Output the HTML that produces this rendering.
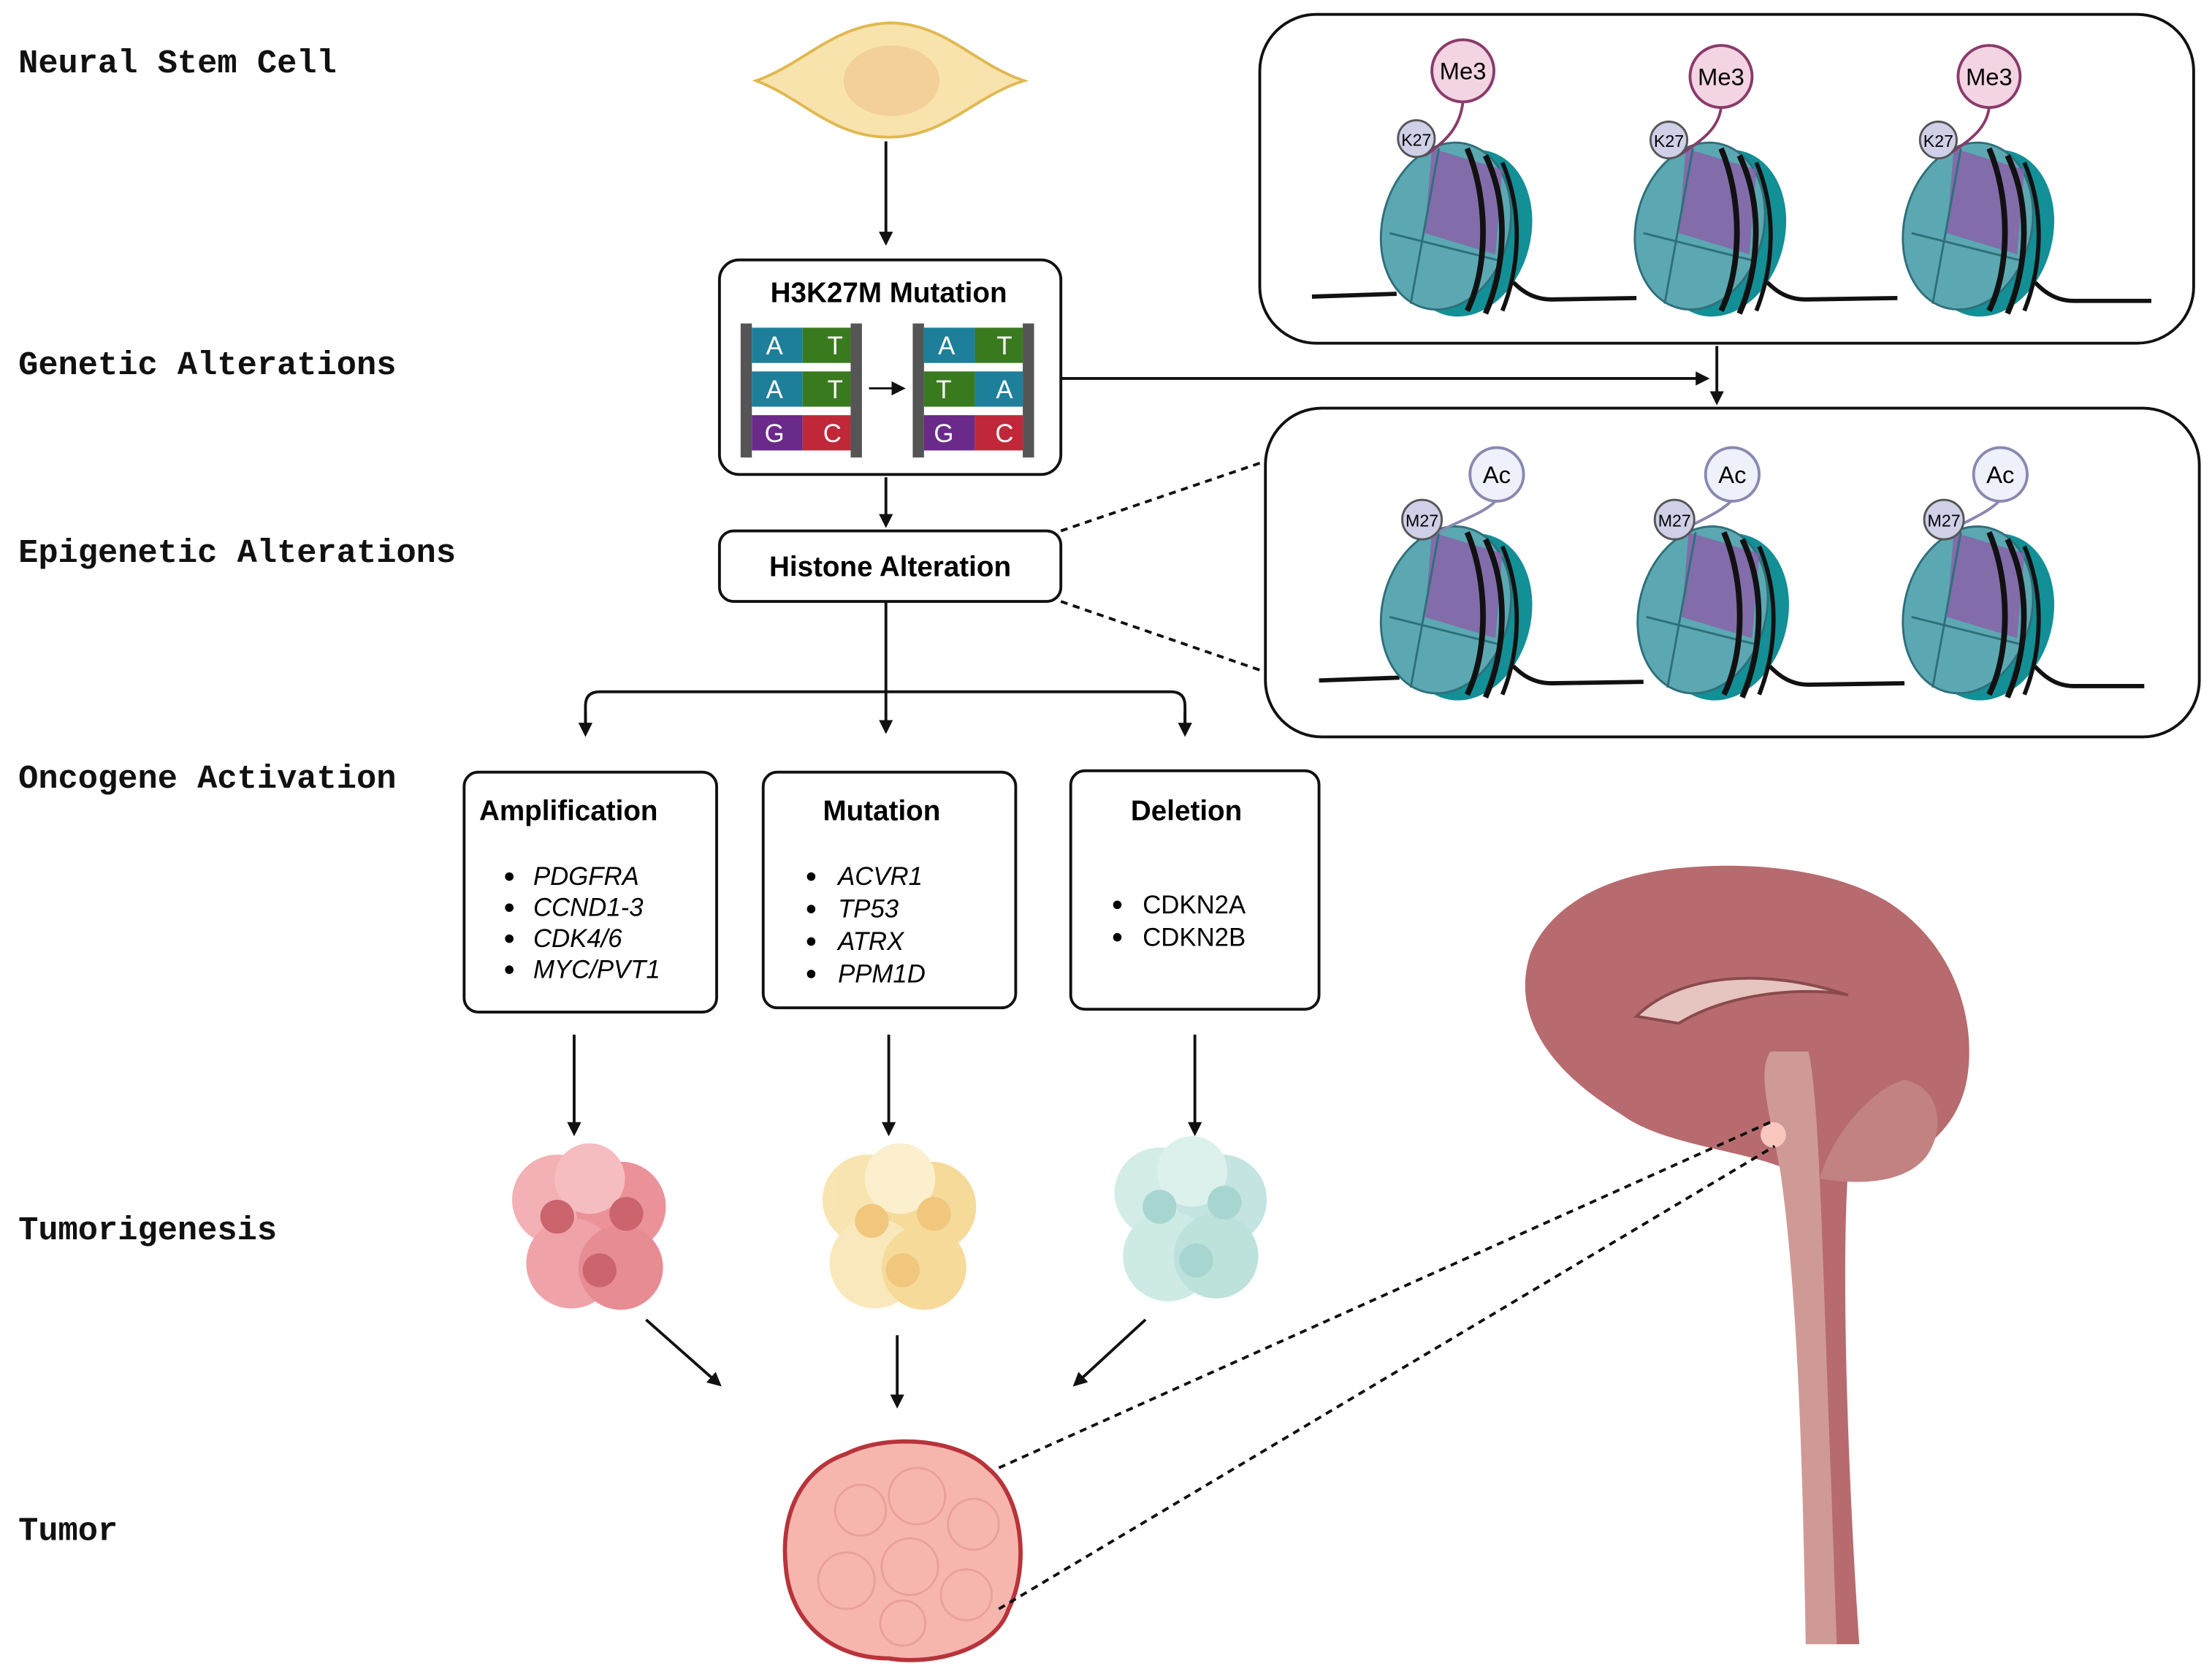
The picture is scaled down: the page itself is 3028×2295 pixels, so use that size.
<!DOCTYPE html>
<html><head><meta charset="utf-8"><style>
html,body{margin:0;padding:0;background:#fff}
svg{display:block}
.lab{font-family:"Liberation Mono",monospace;font-weight:bold;font-size:23.5px;fill:#111}
.sans{font-family:"Liberation Sans",sans-serif}
</style></head><body>
<svg width="3028" height="2295" viewBox="0 0 1568 1188" xmlns="http://www.w3.org/2000/svg">
<defs>
<marker id="ar" markerWidth="10" markerHeight="10" refX="8" refY="5" orient="auto" markerUnits="userSpaceOnUse"><path d="M0,0 L10,5 L0,10 z" fill="#111"/></marker>
<g id="nuc">
  <ellipse cx="15" cy="5" rx="45" ry="60" fill="#138f96" transform="rotate(15 15 5)"/>
  <ellipse cx="0" cy="0" rx="45" ry="60" fill="#5ba8b2" stroke="#2f6f7a" stroke-width="1.5" transform="rotate(15)"/>
  <path d="M-10,-55 L40,-40 L35,20 L-15,5 z" fill="#8a62a8" opacity="0.85"/>
  <path d="M-40,5 L40,25" stroke="#2f6f7a" stroke-width="1.5"/>
  <path d="M-5,-55 L-25,55" stroke="#2f6f7a" stroke-width="1.5"/>
  <path d="M15,-55 C30,-20 30,30 15,60" stroke="#111" stroke-width="4" fill="none"/>
  <path d="M28,-50 C45,-15 42,30 28,62" stroke="#111" stroke-width="4" fill="none"/>
  <path d="M40,-45 C55,-10 52,30 40,60" stroke="#111" stroke-width="3" fill="none"/>
</g>
</defs>

<text class="lab" x="13" y="51">Neural Stem Cell</text>
<text class="lab" x="13" y="265">Genetic Alterations</text>
<text class="lab" x="13" y="398">Epigenetic Alterations</text>
<text class="lab" x="13" y="558">Oncogene Activation</text>
<text class="lab" x="13" y="878">Tumorigenesis</text>
<text class="lab" x="13" y="1091">Tumor</text>

<!-- cell -->
<path d="M536,57 C570,45 590,18 630,16 C670,16 690,45 726,57 C690,68 670,97 630,97 C590,97 570,70 536,57 z" fill="#f8e3ad" stroke="#e0b850" stroke-width="2"/>
<ellipse cx="632" cy="57" rx="34" ry="25" fill="#f3cf9a"/>
<line x1="628" y1="100" x2="628" y2="172" stroke="#111" stroke-width="2" marker-end="url(#ar)"/>

<!-- H3K27M box -->
<rect x="510" y="184" width="242" height="152" rx="14" fill="#fff" stroke="#111" stroke-width="2"/>
<text class="sans" x="630" y="214" font-size="20" font-weight="bold" text-anchor="middle">H3K27M Mutation</text>
<g class="sans" font-size="18" fill="#fff" text-anchor="middle">
<rect x="525" y="229" width="8" height="95" fill="#555"/><rect x="603" y="229" width="8" height="95" fill="#555"/>
<rect x="533" y="232" width="36" height="25" fill="#1e7f9a"/><rect x="569" y="232" width="34" height="25" fill="#3a7a1e"/>
<rect x="533" y="263" width="36" height="25" fill="#1e7f9a"/><rect x="569" y="263" width="34" height="25" fill="#3a7a1e"/>
<rect x="533" y="294" width="36" height="25" fill="#6a2a8a"/><rect x="569" y="294" width="34" height="25" fill="#c0283a"/>
<text x="549" y="251">A</text><text x="592" y="251">T</text>
<text x="549" y="282">A</text><text x="592" y="282">T</text>
<text x="549" y="313">G</text><text x="590" y="313">C</text>
<rect x="647" y="229" width="8" height="95" fill="#555"/><rect x="725" y="229" width="8" height="95" fill="#555"/>
<rect x="655" y="232" width="36" height="25" fill="#1e7f9a"/><rect x="691" y="232" width="34" height="25" fill="#3a7a1e"/>
<rect x="655" y="263" width="36" height="25" fill="#3a7a1e"/><rect x="691" y="263" width="34" height="25" fill="#1e7f9a"/>
<rect x="655" y="294" width="36" height="25" fill="#6a2a8a"/><rect x="691" y="294" width="34" height="25" fill="#c0283a"/>
<text x="671" y="251">A</text><text x="712" y="251">T</text>
<text x="669" y="282">T</text><text x="712" y="282">A</text>
<text x="669" y="313">G</text><text x="712" y="313">C</text>
</g>
<line x1="616" y1="275" x2="640" y2="275" stroke="#111" stroke-width="1.5" marker-end="url(#ar)"/>

<line x1="752" y1="268" x2="1210" y2="268" stroke="#111" stroke-width="2" marker-end="url(#ar)"/>
<line x1="1217" y1="245" x2="1217" y2="285" stroke="#111" stroke-width="2" marker-end="url(#ar)"/>

<!-- top box -->
<rect x="893" y="10" width="662" height="233" rx="40" fill="#fff" stroke="#111" stroke-width="2"/>
<path d="M930,210 L990,208 M1060,185 C1075,205 1085,212 1100,212 L1160,211 M1240,185 C1255,205 1265,212 1280,212 L1345,211 M1430,185 C1445,205 1455,213 1470,213 L1525,213" stroke="#111" stroke-width="3" fill="none"/>
<g transform="translate(1025,160)"><use href="#nuc"/></g>
<g transform="translate(1205,160)"><use href="#nuc"/></g>
<g transform="translate(1395,160)"><use href="#nuc"/></g>
<g class="sans" font-size="17" text-anchor="middle">
<path d="M1037,72 C1035,90 1025,100 1010,110" stroke="#8a3a6a" stroke-width="2" fill="none"/>
<circle cx="1037" cy="50" r="22" fill="#f2d4e2" stroke="#8a3a6a" stroke-width="2"/><text x="1037" y="56">Me3</text>
<circle cx="1004" cy="98" r="13" fill="#cfcfe8" stroke="#555" stroke-width="1.5"/><text x="1004" y="103" font-size="12">K27</text>
<path d="M1220,76 C1218,92 1205,100 1190,110" stroke="#8a3a6a" stroke-width="2" fill="none"/>
<circle cx="1220" cy="54" r="22" fill="#f2d4e2" stroke="#8a3a6a" stroke-width="2"/><text x="1220" y="60">Me3</text>
<circle cx="1183" cy="99" r="13" fill="#cfcfe8" stroke="#555" stroke-width="1.5"/><text x="1183" y="104" font-size="12">K27</text>
<path d="M1410,76 C1408,92 1395,100 1380,110" stroke="#8a3a6a" stroke-width="2" fill="none"/>
<circle cx="1410" cy="54" r="22" fill="#f2d4e2" stroke="#8a3a6a" stroke-width="2"/><text x="1410" y="60">Me3</text>
<circle cx="1374" cy="99" r="13" fill="#cfcfe8" stroke="#555" stroke-width="1.5"/><text x="1374" y="104" font-size="12">K27</text>
</g>

<!-- bottom box -->
<rect x="897" y="289" width="662" height="233" rx="40" fill="#fff" stroke="#111" stroke-width="2"/>
<path d="M935,482 L992,480 M1060,457 C1075,477 1085,484 1100,484 L1165,483 M1242,457 C1257,477 1267,485 1282,485 L1350,484 M1430,457 C1445,477 1455,486 1470,486 L1520,486" stroke="#111" stroke-width="3" fill="none"/>
<g transform="translate(1025,432)"><use href="#nuc"/></g>
<g transform="translate(1207,432)"><use href="#nuc"/></g>
<g transform="translate(1395,432)"><use href="#nuc"/></g>
<g class="sans" font-size="17" text-anchor="middle">
<path d="M1060,355 C1050,365 1030,370 1018,378" stroke="#8888b0" stroke-width="2" fill="none"/>
<circle cx="1061" cy="336" r="19" fill="#eef0fa" stroke="#8888b0" stroke-width="2"/><text x="1061" y="342">Ac</text>
<circle cx="1008" cy="368" r="14" fill="#cfcfe8" stroke="#555" stroke-width="1.5"/><text x="1008" y="373" font-size="12">M27</text>
<path d="M1227,355 C1217,365 1200,370 1190,378" stroke="#8888b0" stroke-width="2" fill="none"/>
<circle cx="1228" cy="336" r="19" fill="#eef0fa" stroke="#8888b0" stroke-width="2"/><text x="1228" y="342">Ac</text>
<circle cx="1187" cy="368" r="14" fill="#cfcfe8" stroke="#555" stroke-width="1.5"/><text x="1187" y="373" font-size="12">M27</text>
<path d="M1417,355 C1407,365 1390,370 1380,378" stroke="#8888b0" stroke-width="2" fill="none"/>
<circle cx="1418" cy="336" r="19" fill="#eef0fa" stroke="#8888b0" stroke-width="2"/><text x="1418" y="342">Ac</text>
<circle cx="1378" cy="368" r="14" fill="#cfcfe8" stroke="#555" stroke-width="1.5"/><text x="1378" y="373" font-size="12">M27</text>
</g>

<line x1="628" y1="338" x2="628" y2="372" stroke="#111" stroke-width="2" marker-end="url(#ar)"/>
<rect x="510" y="376" width="242" height="50" rx="10" fill="#fff" stroke="#111" stroke-width="2"/>
<text class="sans" x="631" y="408" font-size="20" font-weight="bold" text-anchor="middle">Histone Alteration</text>
<line x1="752" y1="376" x2="893" y2="328" stroke="#111" stroke-width="2" stroke-dasharray="5,4"/>
<line x1="752" y1="426" x2="897" y2="476" stroke="#111" stroke-width="2" stroke-dasharray="5,4"/>

<line x1="628" y1="426" x2="628" y2="518" stroke="#111" stroke-width="2" marker-end="url(#ar)"/>
<path d="M415,518 L415,500 Q415,490 425,490 L830,490 Q840,490 840,500 L840,518" stroke="#111" stroke-width="2" fill="none"/>
<line x1="415" y1="505" x2="415" y2="520" stroke="#111" stroke-width="2" marker-end="url(#ar)"/>
<line x1="840" y1="505" x2="840" y2="520" stroke="#111" stroke-width="2" marker-end="url(#ar)"/>

<!-- gene boxes -->
<g class="sans" font-size="18">
<rect x="329" y="547" width="179" height="170" rx="10" fill="#fff" stroke="#111" stroke-width="2"/>
<text x="403" y="581" font-size="20" font-weight="bold" text-anchor="middle">Amplification</text>
<g font-style="italic"><text x="378" y="627">PDGFRA</text><text x="378" y="649">CCND1-3</text><text x="378" y="671">CDK4/6</text><text x="378" y="693">MYC/PVT1</text></g>
<circle cx="361" cy="621" r="3"/><circle cx="361" cy="643" r="3"/><circle cx="361" cy="665" r="3"/><circle cx="361" cy="687" r="3"/>
<rect x="541" y="547" width="179" height="167" rx="10" fill="#fff" stroke="#111" stroke-width="2"/>
<text x="625" y="581" font-size="20" font-weight="bold" text-anchor="middle">Mutation</text>
<g font-style="italic"><text x="594" y="627">ACVR1</text><text x="594" y="650">TP53</text><text x="594" y="673">ATRX</text><text x="594" y="696">PPM1D</text></g>
<circle cx="575" cy="621" r="3"/><circle cx="575" cy="644" r="3"/><circle cx="575" cy="667" r="3"/><circle cx="575" cy="690" r="3"/>
<rect x="759" y="546" width="176" height="169" rx="10" fill="#fff" stroke="#111" stroke-width="2"/>
<text x="841" y="581" font-size="20" font-weight="bold" text-anchor="middle">Deletion</text>
<text x="810" y="647">CDKN2A</text><text x="810" y="670">CDKN2B</text>
<circle cx="792" cy="641" r="3"/><circle cx="792" cy="664" r="3"/>
</g>

<line x1="407" y1="733" x2="407" y2="803" stroke="#111" stroke-width="2" marker-end="url(#ar)"/>
<line x1="630" y1="733" x2="630" y2="803" stroke="#111" stroke-width="2" marker-end="url(#ar)"/>
<line x1="847" y1="733" x2="847" y2="803" stroke="#111" stroke-width="2" marker-end="url(#ar)"/>

<!-- clusters -->
<g opacity="0.9">
<circle cx="395" cy="850" r="32" fill="#f2a8ad"/><circle cx="440" cy="855" r="32" fill="#e9878f"/><circle cx="405" cy="895" r="32" fill="#ee9aa0"/><circle cx="440" cy="898" r="30" fill="#e58088"/><circle cx="418" cy="835" r="25" fill="#f4b6ba"/>
<circle cx="395" cy="862" r="12" fill="#c6545e"/><circle cx="444" cy="860" r="12" fill="#c6545e"/><circle cx="425" cy="900" r="12" fill="#c6545e"/>
<circle cx="615" cy="850" r="32" fill="#f8e2a8"/><circle cx="660" cy="855" r="32" fill="#f5d690"/><circle cx="620" cy="895" r="32" fill="#f9e6b4"/><circle cx="655" cy="898" r="30" fill="#f5d690"/><circle cx="638" cy="835" r="25" fill="#fbeec8"/>
<circle cx="618" cy="865" r="12" fill="#f0c070"/><circle cx="662" cy="860" r="12" fill="#f0c070"/><circle cx="640" cy="900" r="12" fill="#f0c070"/>
<circle cx="822" cy="845" r="32" fill="#cfeae6"/><circle cx="866" cy="850" r="32" fill="#bde2dd"/><circle cx="828" cy="890" r="32" fill="#c8e8e3"/><circle cx="862" cy="890" r="30" fill="#b6ded8"/><circle cx="845" cy="830" r="25" fill="#d9efeb"/>
<circle cx="822" cy="855" r="12" fill="#9ed1ca"/><circle cx="868" cy="852" r="12" fill="#9ed1ca"/><circle cx="848" cy="893" r="12" fill="#9ed1ca"/>
</g>

<line x1="458" y1="935" x2="510" y2="981" stroke="#111" stroke-width="2" marker-end="url(#ar)"/>
<line x1="636" y1="946" x2="636" y2="996" stroke="#111" stroke-width="2" marker-end="url(#ar)"/>
<line x1="812" y1="935" x2="762" y2="981" stroke="#111" stroke-width="2" marker-end="url(#ar)"/>

<!-- tumor -->
<path d="M600,1030 C630,1015 680,1020 700,1040 C725,1060 730,1110 715,1140 C705,1170 660,1180 630,1175 C590,1175 560,1150 557,1110 C553,1070 570,1040 600,1030 z" fill="#f6b6ae" stroke="#b8333a" stroke-width="3"/>
<g fill="none" stroke="#eaa098" stroke-width="1.5"><circle cx="610" cy="1070" r="18"/><circle cx="650" cy="1060" r="20"/><circle cx="690" cy="1080" r="18"/><circle cx="600" cy="1120" r="20"/><circle cx="645" cy="1110" r="20"/><circle cx="685" cy="1130" r="18"/><circle cx="640" cy="1150" r="16"/></g>

<!-- brain -->
<path d="M1300,1165 C1295,1050 1290,930 1275,860 L1270,830 C1240,815 1180,812 1150,790 C1100,760 1070,720 1085,675 C1100,640 1140,620 1190,615 C1240,610 1300,615 1340,640 C1385,670 1400,720 1395,760 C1390,800 1360,820 1330,830 L1310,830 C1305,900 1310,1050 1318,1165 z" fill="#b76b6e"/>
<path d="M1290,835 C1300,800 1330,770 1350,765 C1375,770 1380,800 1365,820 C1350,838 1320,840 1290,835 z" fill="#c28282"/>
<path d="M1280,1165 C1278,1050 1275,920 1262,830 C1255,790 1245,760 1255,745 L1282,745 C1290,780 1292,900 1298,1050 L1302,1165 z" fill="#cf9a96"/>
<path d="M1160,720 C1190,690 1250,685 1310,705 C1290,700 1230,700 1190,725 z" fill="#e6c4c0" stroke="#8a4a4c" stroke-width="2"/>
<circle cx="1257" cy="804" r="9" fill="#f9c7bd"/>

<line x1="708" y1="1040" x2="1255" y2="795" stroke="#111" stroke-width="2" stroke-dasharray="5,4"/>
<line x1="708" y1="1140" x2="1258" y2="812" stroke="#111" stroke-width="2" stroke-dasharray="5,4"/>
</svg>
</body></html>
